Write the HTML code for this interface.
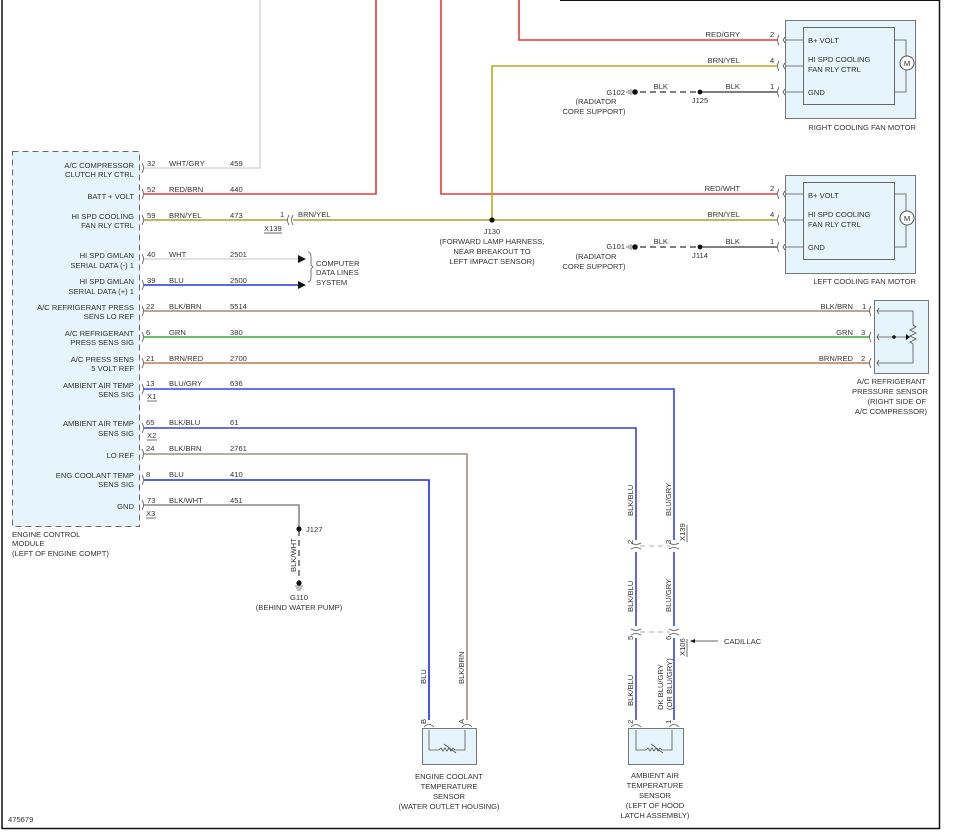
<!DOCTYPE html>
<html><head><meta charset="utf-8"><style>
html,body{margin:0;padding:0;background:#fff;}
svg{display:block;}
text{font-family:"Liberation Sans",Arial,sans-serif;font-size:7.6px;fill:#333;}
.r{text-anchor:end}.m{text-anchor:middle}
</style></head><body>
<svg width="954" height="840" viewBox="0 0 954 840" xmlns="http://www.w3.org/2000/svg">
<!-- frame -->
<line x1="2" y1="0" x2="2" y2="829" stroke="#111" stroke-width="1.5"/>
<line x1="2" y1="828.5" x2="940" y2="828.5" stroke="#111" stroke-width="1.5"/>
<line x1="939.5" y1="0" x2="939.5" y2="829" stroke="#111" stroke-width="1.5"/>
<line x1="560" y1="0.5" x2="940" y2="0.5" stroke="#111" stroke-width="1"/>

<!-- ECM -->
<rect x="12.5" y="151.5" width="127" height="375" fill="#e6f4fb" stroke="#666" stroke-dasharray="6,4"/>
<g class="r">
<text x="134" y="168" class="r">A/C COMPRESSOR</text><text x="134" y="177" class="r">CLUTCH RLY CTRL</text>
<text x="134" y="199" class="r">BATT + VOLT</text>
<text x="134" y="219" class="r">HI SPD COOLING</text><text x="134" y="228" class="r">FAN RLY CTRL</text>
<text x="134" y="258" class="r">HI SPD GMLAN</text><text x="134" y="268" class="r">SERIAL DATA (-) 1</text>
<text x="134" y="284" class="r">HI SPD GMLAN</text><text x="134" y="294" class="r">SERIAL DATA (+) 1</text>
<text x="134" y="310" class="r">A/C REFRIGERANT PRESS</text><text x="134" y="319" class="r">SENS LO REF</text>
<text x="134" y="336" class="r">A/C REFRIGERANT</text><text x="134" y="345" class="r">PRESS SENS SIG</text>
<text x="134" y="362" class="r">A/C PRESS SENS</text><text x="134" y="371" class="r">5 VOLT REF</text>
<text x="134" y="388" class="r">AMBIENT AIR TEMP</text><text x="134" y="397" class="r">SENS SIG</text>
<text x="134" y="426" class="r">AMBIENT AIR TEMP</text><text x="134" y="436" class="r">SENS SIG</text>
<text x="134" y="458" class="r">LO REF</text>
<text x="134" y="478" class="r">ENG COOLANT TEMP</text><text x="134" y="487" class="r">SENS SIG</text>
<text x="134" y="509" class="r">GND</text>
</g>
<text x="12" y="537">ENGINE CONTROL</text><text x="12" y="546">MODULE</text><text x="12" y="556">(LEFT OF ENGINE COMPT)</text>
<text x="8" y="822">475679</text>

<!-- ECM pin marks -->
<g fill="none" stroke="#555" stroke-width="0.8">
<path d="M142 163q3 5 0 10M142 189q3 5 0 10M142 215q3 5 0 10M142 254q3 5 0 10M142 280q3 5 0 10M142 306q3 5 0 10M142 332q3 5 0 10M142 358q3 5 0 10M142 384q3 5 0 10M142 423q3 5 0 10M142 449q3 5 0 10M142 475q3 5 0 10M142 500q3 5 0 10"/>
</g>

<!-- wires ECM -->
<g fill="none" stroke-width="1.6">
<polyline points="144,168 260,168 260,0" stroke="#d8d8d8"/>
<polyline points="144,194 376,194 376,0" stroke="#e8383a"/>
<polyline points="441,0 441,194 777,194" stroke="#e8383a"/>
<polyline points="519,0 519,40 777,40" stroke="#e8383a"/>
<line x1="144" y1="220" x2="287" y2="220" stroke="#b59a2a"/>
<line x1="293" y1="220" x2="777" y2="220" stroke="#b59a2a"/>
<polyline points="492,220 492,66 777,66" stroke="#c2a818"/>
<line x1="144" y1="259" x2="298" y2="259" stroke="#d8d8d8"/>
<line x1="144" y1="285" x2="298" y2="285" stroke="#2233dd"/>
<line x1="144" y1="311" x2="870" y2="311" stroke="#a08a70"/>
<line x1="144" y1="337" x2="870" y2="337" stroke="#3aa83a"/>
<line x1="144" y1="363" x2="870" y2="363" stroke="#c07a50"/>
<polyline points="144,389 674,389 674,540" stroke="#3344ee"/>
<polyline points="144,428 636,428 636,540" stroke="#3344cc"/>
<polyline points="144,454 467,454 467,720" stroke="#9a9080"/>
<polyline points="144,480 429,480 429,720" stroke="#1a2ae8"/>
<polyline points="144,505 299,505 299,527" stroke="#888"/>
<line x1="636" y1="552" x2="636" y2="626" stroke="#3344cc"/>
<line x1="674" y1="552" x2="674" y2="626" stroke="#3344ee"/>
<line x1="636" y1="638" x2="636" y2="720" stroke="#3344cc"/>
<line x1="674" y1="638" x2="674" y2="720" stroke="#3344ee"/>
<line x1="700" y1="92" x2="777" y2="92" stroke="#555"/>
<line x1="700" y1="247" x2="777" y2="247" stroke="#555"/>
</g>
<g stroke="#555" stroke-width="1.4" stroke-dasharray="6,4">
<line x1="640" y1="92" x2="700" y2="92"/><line x1="640" y1="247" x2="700" y2="247"/>
<line x1="299" y1="530" x2="299" y2="582"/>
</g>
<g stroke="#999" stroke-width="0.8" stroke-dasharray="5,4">
<line x1="640" y1="546" x2="670" y2="546"/><line x1="640" y1="632" x2="670" y2="632"/>
</g>

<!-- ECM wire labels -->
<g>
<text x="147" y="166">32</text><text x="169" y="166">WHT/GRY</text><text x="230" y="166">459</text>
<text x="147" y="192">52</text><text x="169" y="192">RED/BRN</text><text x="230" y="192">440</text>
<text x="147" y="218">59</text><text x="169" y="218">BRN/YEL</text><text x="230" y="218">473</text>
<text x="147" y="257">40</text><text x="169" y="257">WHT</text><text x="230" y="257">2501</text>
<text x="147" y="283">39</text><text x="169" y="283">BLU</text><text x="230" y="283">2500</text>
<text x="146" y="309">22</text><text x="169" y="309">BLK/BRN</text><text x="230" y="309">5514</text>
<text x="146" y="335">6</text><text x="169" y="335">GRN</text><text x="230" y="335">380</text>
<text x="146" y="361">21</text><text x="169" y="361">BRN/RED</text><text x="230" y="361">2700</text>
<text x="146" y="386">13</text><text x="169" y="386">BLU/GRY</text><text x="230" y="386">636</text>
<text x="146" y="425">65</text><text x="169" y="425">BLK/BLU</text><text x="230" y="425">61</text>
<text x="146" y="451">24</text><text x="169" y="451">BLK/BRN</text><text x="230" y="451">2761</text>
<text x="146" y="477">8</text><text x="169" y="477">BLU</text><text x="230" y="477">410</text>
<text x="147" y="503">73</text><text x="169" y="503">BLK/WHT</text><text x="230" y="503">451</text>
<text x="147" y="399">X1</text><line x1="147" y1="401" x2="157" y2="401" stroke="#333" stroke-width="0.7"/>
<text x="147" y="438">X2</text><line x1="147" y1="440" x2="157" y2="440" stroke="#333" stroke-width="0.7"/>
<text x="146" y="516">X3</text><line x1="146" y1="518" x2="156" y2="518" stroke="#333" stroke-width="0.7"/>
</g>

<!-- X139 inline -->
<path d="M289 215q-3 5 0 10M293 215q-3 5 0 10" fill="none" stroke="#555" stroke-width="0.8"/>
<text x="280" y="217">1</text><text x="298" y="217">BRN/YEL</text>
<text x="264" y="231">X139</text><line x1="264" y1="233" x2="282" y2="233" stroke="#333" stroke-width="0.7"/>

<!-- data arrows -->
<path d="M298 255l8 4-8 4zM298 281l8 4-8 4z" fill="#111"/>
<path d="M308 252q3 0 3 5v8l2 2-2 2v8q0 5-3 5" fill="none" stroke="#555" stroke-width="0.8"/>
<text x="316" y="266">COMPUTER</text><text x="316" y="275">DATA LINES</text><text x="316" y="285">SYSTEM</text>

<!-- J130 -->
<circle cx="492" cy="220" r="2.6" fill="#111"/>
<text x="492" y="234" class="m">J130</text>
<text x="492" y="244" class="m">(FORWARD LAMP HARNESS,</text>
<text x="492" y="254" class="m">NEAR BREAKOUT TO</text>
<text x="492" y="264" class="m">LEFT IMPACT SENSOR)</text>

<!-- right wire labels -->
<text x="740" y="37" class="r">RED/GRY</text><text x="770" y="37">2</text>
<text x="740" y="63" class="r">BRN/YEL</text><text x="770" y="63">4</text>
<text x="740" y="89" class="r">BLK</text><text x="770" y="89">1</text>
<text x="668" y="89" class="r">BLK</text>
<text x="740" y="191" class="r">RED/WHT</text><text x="770" y="191">2</text>
<text x="740" y="217" class="r">BRN/YEL</text><text x="770" y="217">4</text>
<text x="740" y="244" class="r">BLK</text><text x="770" y="244">1</text>
<text x="668" y="244" class="r">BLK</text>
<circle cx="700" cy="92" r="2.4" fill="#111"/><circle cx="700" cy="247" r="2.4" fill="#111"/>
<circle cx="635" cy="92" r="2.8" fill="#111"/><circle cx="635" cy="247" r="2.8" fill="#111"/>
<path d="M631 89v6M629 90v4M627 91v2M631 244v6M629 245v4M627 246v2" stroke="#555" stroke-width="0.8"/>
<text x="700" y="103" class="m">J125</text><text x="700" y="258" class="m">J114</text>
<text x="625" y="95" class="r">G102</text><text x="596" y="104" class="m">(RADIATOR</text><text x="594" y="114" class="m">CORE SUPPORT)</text>
<text x="625" y="249" class="r">G101</text><text x="596" y="259" class="m">(RADIATOR</text><text x="594" y="269" class="m">CORE SUPPORT)</text>

<!-- motors -->
<g>
<rect x="785.5" y="20.5" width="130" height="98" fill="#e6f4fb" stroke="#777"/>
<rect x="803.5" y="27.5" width="91" height="77" fill="#e6f4fb" stroke="#666"/>
<rect x="785.5" y="175.5" width="130" height="98" fill="#e6f4fb" stroke="#777"/>
<rect x="803.5" y="182.5" width="91" height="77" fill="#e6f4fb" stroke="#666"/>
</g>
<g fill="none" stroke="#555" stroke-width="0.8">
<path d="M779 35q-3 5 0 10M779 61q-3 5 0 10M779 87q-3 5 0 10M779 189q-3 5 0 10M779 215q-3 5 0 10M779 242q-3 5 0 10"/>
<path d="M786 40h17M786 66h17M786 92h17M786 194h17M786 220h17M786 247h17"/>
<path d="M785 37l-2 3 2 3M785 63l-2 3 2 3M785 89l-2 3 2 3M785 191l-2 3 2 3M785 217l-2 3 2 3M785 244l-2 3 2 3"/>
<path d="M894 40h12v52h-12M894 194h12v53h-12"/>
</g>
<circle cx="907" cy="63" r="7" fill="#fff" stroke="#555"/><text x="907" y="66" class="m" font-size="8">M</text>
<circle cx="907" cy="218" r="7" fill="#fff" stroke="#555"/><text x="907" y="221" class="m" font-size="8">M</text>
<g>
<text x="808" y="43">B+ VOLT</text><text x="808" y="62">HI SPD COOLING</text><text x="808" y="72">FAN RLY CTRL</text><text x="808" y="95">GND</text>
<text x="808" y="198">B+ VOLT</text><text x="808" y="217">HI SPD COOLING</text><text x="808" y="227">FAN RLY CTRL</text><text x="808" y="250">GND</text>
</g>
<text x="916" y="130" class="r">RIGHT COOLING FAN MOTOR</text>
<text x="916" y="284" class="r">LEFT COOLING FAN MOTOR</text>

<!-- pressure sensor -->
<rect x="874.5" y="300.5" width="54" height="73" fill="#e6f4fb" stroke="#777"/>
<g fill="none" stroke="#555" stroke-width="0.8">
<path d="M871 306q-3 5 0 10M871 332q-3 5 0 10M871 358q-3 5 0 10"/>
<path d="M877 311h36v14M877 337h33M877 363h36v-14"/>
<path d="M913 325l3 2-6 3 6 3-6 3 6 3-6 3 3 2v5"/>
<path d="M879 308l-2 3 2 3M879 334l-2 3 2 3M879 360l-2 3 2 3"/>
</g>
<circle cx="894" cy="337" r="1.8" fill="#111"/><path d="M906 334l4 3-4 3z" fill="#111"/>
<text x="853" y="309" class="r">BLK/BRN</text><text x="862" y="309">1</text>
<text x="853" y="335" class="r">GRN</text><text x="861" y="335">3</text>
<text x="853" y="361" class="r">BRN/RED</text><text x="861" y="361">2</text>
<text x="926" y="384" class="r">A/C REFRIGERANT</text><text x="928" y="394" class="r">PRESSURE SENSOR</text>
<text x="926" y="404" class="r">(RIGHT SIDE OF</text><text x="927" y="414" class="r">A/C COMPRESSOR)</text>

<!-- J127 / G110 -->
<circle cx="299" cy="529" r="2.6" fill="#111"/><text x="306" y="532">J127</text>
<circle cx="299" cy="583" r="2.6" fill="#111"/>
<path d="M295 586h8M296 588h6M297 590h4" stroke="#555" stroke-width="0.8"/>
<text x="299" y="600" class="m">G110</text><text x="299" y="610" class="m">(BEHIND WATER PUMP)</text>
<text transform="translate(296,572) rotate(-90)">BLK/WHT</text>

<!-- vertical labels -->
<g>
<text transform="translate(426,684) rotate(-90)">BLU</text>
<text transform="translate(464,684) rotate(-90)">BLK/BRN</text>
<text transform="translate(426,724) rotate(-90)">B</text>
<text transform="translate(464,724) rotate(-90)">A</text>
<text transform="translate(633,516) rotate(-90)">BLK/BLU</text>
<text transform="translate(671,516) rotate(-90)">BLU/GRY</text>
<text transform="translate(633,612) rotate(-90)">BLK/BLU</text>
<text transform="translate(671,612) rotate(-90)">BLU/GRY</text>
<text transform="translate(633,706) rotate(-90)">BLK/BLU</text>
<text transform="translate(663,710) rotate(-90)">DK BLU/GRY</text>
<text transform="translate(672,710) rotate(-90)">(OR BLU/GRY)</text>
<text transform="translate(633,544) rotate(-90)">2</text>
<text transform="translate(671,544) rotate(-90)">3</text>
<text transform="translate(633,640) rotate(-90)">5</text>
<text transform="translate(671,640) rotate(-90)">6</text>
<text transform="translate(633,724) rotate(-90)">2</text>
<text transform="translate(671,724) rotate(-90)">1</text>
<text transform="translate(685,541) rotate(-90)">X139</text>
<text transform="translate(685,656) rotate(-90)">X106</text>
</g>
<line x1="687" y1="525" x2="687" y2="542" stroke="#333" stroke-width="0.7"/>
<line x1="687" y1="639" x2="687" y2="657" stroke="#333" stroke-width="0.7"/>
<g fill="none" stroke="#555" stroke-width="0.8">
<path d="M631 543q5 3 10 0M631 549q5 -3 10 0M669 543q5 3 10 0M669 549q5 -3 10 0"/>
<path d="M631 629q5 3 10 0M631 635q5 -3 10 0M669 629q5 3 10 0M669 635q5 -3 10 0"/>
<path d="M424 727q5 -5 10 0M462 727q5 -5 10 0M631 727q5 -5 10 0M669 727q5 -5 10 0"/>
</g>
<line x1="694" y1="641" x2="718" y2="641" stroke="#333" stroke-width="0.8"/>
<path d="M690 641l5 -2v4z" fill="#111"/>
<text x="724" y="644">CADILLAC</text>

<!-- sensors -->
<rect x="422.5" y="728.5" width="54" height="36" fill="#e6f4fb" stroke="#777"/>
<rect x="628.5" y="728.5" width="55" height="36" fill="#e6f4fb" stroke="#777"/>
<g fill="none" stroke="#555" stroke-width="0.8">
<path d="M429 730v20h10l2-2 2 3 2-3 2 3 2-3 2 3 2-3 2 2h10v-20"/>
<path d="M444 744l12 9"/>
<path d="M636 730v20h10l2-2 2 3 2-3 2 3 2-3 2 3 2-3 2 2h10v-20"/>
<path d="M651 744l12 9"/>
</g>
<text x="449" y="779" class="m">ENGINE COOLANT</text><text x="449" y="789" class="m">TEMPERATURE</text>
<text x="449" y="799" class="m">SENSOR</text><text x="449" y="809" class="m">(WATER OUTLET HOUSING)</text>
<text x="655" y="778" class="m">AMBIENT AIR</text><text x="655" y="788" class="m">TEMPERATURE</text>
<text x="655" y="798" class="m">SENSOR</text><text x="655" y="808" class="m">(LEFT OF HOOD</text>
<text x="655" y="818" class="m">LATCH ASSEMBLY)</text>
</svg>
</body></html>
